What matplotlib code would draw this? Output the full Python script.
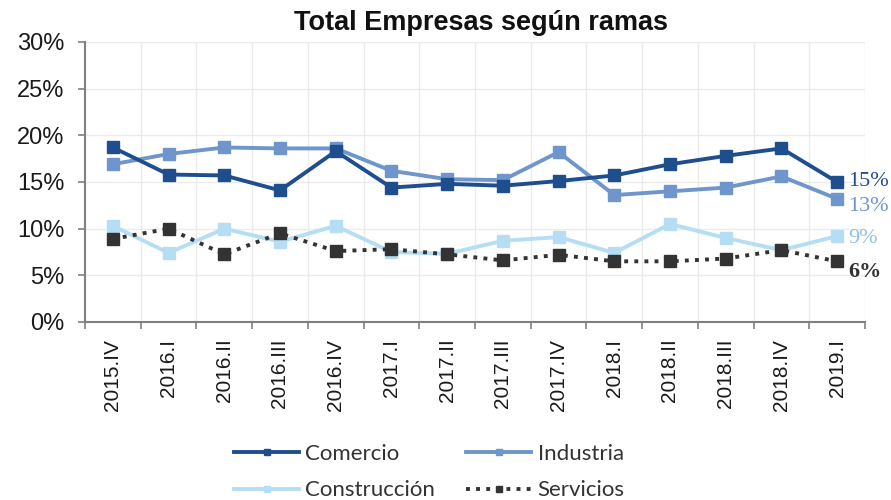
import matplotlib
matplotlib.use("Agg")
import matplotlib.pyplot as plt
import numpy as np
from matplotlib.ticker import FixedLocator, PercentFormatter

plt.rcParams["font.family"] = ["Liberation Sans", "DejaVu Sans"]

categories = ["2015.IV", "2016.I", "2016.II", "2016.III", "2016.IV", "2017.I", "2017.II",
              "2017.III", "2017.IV", "2018.I", "2018.II", "2018.III", "2018.IV", "2019.I"]
comercio = [18.7, 15.8, 15.7, 14.1, 18.3, 14.4, 14.8, 14.6, 15.1, 15.7, 16.9, 17.8, 18.6, 15.0]
industria = [16.9, 18.0, 18.7, 18.6, 18.6, 16.2, 15.3, 15.2, 18.2, 13.6, 14.0, 14.4, 15.6, 13.2]
construccion = [10.3, 7.4, 10.0, 8.6, 10.3, 7.5, 7.3, 8.7, 9.1, 7.4, 10.5, 9.0, 7.7, 9.2]
servicios = [8.9, 10.0, 7.25, 9.5, 7.6, 7.8, 7.25, 6.6, 7.2, 6.5, 6.5, 6.8, 7.7, 6.5]
end_labels = ["15%", "13%", "9%", "6%"]

c_com = "#1f4e8f"
c_ind = "#6f96cc"
c_con = "#b5def5"
c_ser = "#333333"

fig = plt.figure(figsize=(8.91, 5.0), dpi=100)
ax = fig.add_axes([85/891, 1-322/500, 780/891, 280/500])

x = np.arange(len(categories))
h_com, = ax.plot(x, comercio, color=c_com, lw=2.8, marker="s", ms=8.5, label="Comercio", zorder=5)
h_ind, = ax.plot(x, industria, color=c_ind, lw=2.8, marker="s", ms=8.5, label="Industria", zorder=4)
h_con, = ax.plot(x, construccion, color=c_con, lw=2.8, marker="s", ms=8.5, label="Construcción", zorder=3)
h_ser, = ax.plot(x, servicios, color=c_ser, lw=2.8, ls=(0, (1, 1.6)), marker="s", ms=8.5,
                 label="Servicios", zorder=6)

ax.set_xlim(-0.5, len(categories) - 0.5)
ax.set_ylim(0, 30)
ax.set_yticks(np.arange(0, 31, 5))
ax.yaxis.set_major_formatter(PercentFormatter(decimals=0))
ax.set_xticks(x)
ax.set_xticklabels(categories, rotation=90, fontsize=15, color="#1a1a1a")
ax.xaxis.set_minor_locator(FixedLocator(np.arange(-0.5, len(categories), 1)))
ax.tick_params(axis="x", which="major", length=0, pad=12)
ax.tick_params(axis="x", which="minor", length=5, color="#808080", width=1.2)
ax.tick_params(axis="y", length=5, color="#808080", width=1.2, labelsize=17, pad=10,
               labelcolor="#1a1a1a")

ax.grid(axis="y", color="#ebebeb", lw=1)
ax.grid(axis="x", which="minor", color="#ebebeb", lw=1)
ax.set_axisbelow(True)
for s in ["top", "right"]:
    ax.spines[s].set_visible(False)
for s in ["left", "bottom"]:
    ax.spines[s].set_color("#808080")
    ax.spines[s].set_linewidth(1.5)

# end labels
series_last = [comercio[-1], industria[-1], construccion[-1], servicios[-1]]
offsets = [0.0, -0.8, -0.3, -1.1]
colors_lab = [c_com, c_ind, "#8fc3e6", c_ser]
weights = ["normal", "normal", "normal", "bold"]
for lab, v, off, col, w in zip(end_labels, series_last, offsets, colors_lab, weights):
    ax.text(len(categories) - 1 + 0.2, v + off, lab, color=col, fontsize=16,
            family="Liberation Serif", va="center", ha="left", weight=w, clip_on=False)

fig.text(0.54, 0.955, "Total Empresas según ramas", ha="center", va="center",
         fontsize=19.5, weight="bold", color="#111111")

handles = [h_com, h_con, h_ind, h_ser]
leg = fig.legend(handles=handles, labels=[h.get_label() for h in handles],
                 loc="center", bbox_to_anchor=(0.482, 0.056), ncol=2, frameon=False,
                 prop={"family": "Lato", "size": 16}, handlelength=2.9,
                 columnspacing=1.4, handletextpad=0.3, labelspacing=0.75,
                 markerscale=0.55)
for t in leg.get_texts():
    t.set_color("#333333")

fig.savefig("out.png", dpi=100)
